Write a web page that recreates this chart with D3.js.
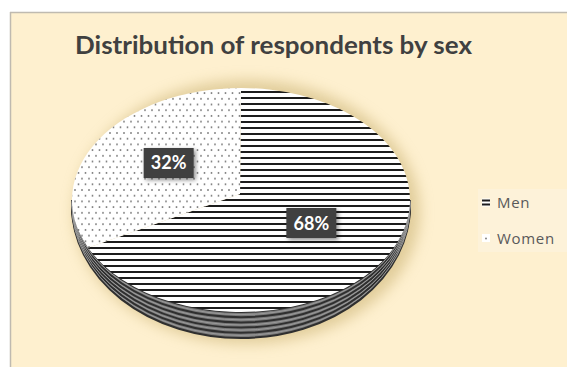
<!DOCTYPE html>
<html><head><meta charset="utf-8">
<script src="https://cdn.jsdelivr.net/npm/d3@7"></script>
<style>html,body{margin:0;padding:0;background:#fff;}svg{display:block;}</style>
</head><body>
<svg id="chart" width="567" height="367"></svg>
<script>
const categories = ["Men", "Women"];
const values = [68, 32];
const labels = ["68%", "32%"];
const title = "Distribution of respondents by sex";

const svg = d3.select("#chart");
const W = 567, H = 367;
const defs = svg.append("defs");

// patterns
const pl = defs.append("pattern").attr("id","lines").attr("patternUnits","userSpaceOnUse")
  .attr("width",8).attr("height",6).attr("y",1);
pl.append("rect").attr("width",8).attr("height",6).attr("fill","#ffffff");
pl.append("rect").attr("y",0).attr("width",8).attr("height",2).attr("fill","#1c1c1c");

const pd = defs.append("pattern").attr("id","dots").attr("patternUnits","userSpaceOnUse")
  .attr("width",7).attr("height",11.4);
pd.append("rect").attr("width",7).attr("height",11.4).attr("fill","#ffffff");
pd.append("circle").attr("cx",1.5).attr("cy",2).attr("r",0.95).attr("fill","#7a7a7a");
pd.append("circle").attr("cx",5).attr("cy",7.7).attr("r",0.95).attr("fill","#7a7a7a");

const blur = defs.append("filter").attr("id","blur").attr("x","-20%").attr("y","-20%").attr("width","140%").attr("height","140%");
blur.append("feGaussianBlur").attr("stdDeviation",7);
const lblShadow = defs.append("filter").attr("id","lshadow").attr("x","-30%").attr("y","-30%").attr("width","160%").attr("height","160%");
lblShadow.append("feDropShadow").attr("dx",2).attr("dy",2).attr("stdDeviation",2).attr("flood-color","#000").attr("flood-opacity",0.45);

// background and border
svg.append("rect").attr("x",10).attr("y",12).attr("width",W-10).attr("height",H-12).attr("fill","#fef0cf");
svg.append("line").attr("x1",10).attr("x2",W).attr("y1",12.5).attr("y2",12.5).attr("stroke","#bfbab0").attr("stroke-width",1.5);
svg.append("line").attr("x1",10.5).attr("x2",10.5).attr("y1",12).attr("y2",H).attr("stroke","#bfbab0").attr("stroke-width",1.5);
svg.append("rect").attr("x",478).attr("y",189).attr("width",89).attr("height",63).attr("fill","#fdf2d9");

// title
svg.append("text").attr("x",273.5).attr("y",54).attr("text-anchor","middle")
  .attr("font-family","Lato, 'Open Sans', sans-serif").attr("font-weight","bold")
  .attr("font-size",24).attr("fill","#404040")
  .attr("textLength",397).attr("lengthAdjust","spacingAndGlyphs").text(title);

// pie geometry
const cx = 241, cy = 200, rx = 169, ry = 112;
const sideDy = 6, sideDry = 20;   // bottom ellipse: shifted + taller (perspective)
const apex = [240, 194];
const pie = d3.pie().sort(null).value(d => d);
const arcs = pie(values);
const pt = a => [cx + rx*Math.sin(a), cy - ry*Math.cos(a)];

const g = svg.append("g");
// shadow
g.append("ellipse").attr("cx",cx+6).attr("cy",cy+sideDy+6).attr("rx",rx+4).attr("ry",ry+sideDry)
  .attr("fill","#c9b070").attr("opacity",0.55).attr("filter","url(#blur)");

// side
const frontArc = t => {
  const yc = cy + sideDy*t, r2 = ry + sideDry*t;
  return {yc, r2};
};
const b = frontArc(1);
g.append("path")
  .attr("d", `M${cx-rx},${cy} A${rx},${ry} 0 0 0 ${cx+rx},${cy} L${cx+rx},${b.yc} A${rx},${b.r2} 0 0 1 ${cx-rx},${b.yc} Z`)
  .attr("fill","#7a7a7a");
const layers = d3.range(0, 1.0001, 0.2);
g.selectAll("path.layer").data(layers).join("path").attr("class","layer")
  .attr("d", t => { const f = frontArc(t); return `M${cx-rx},${f.yc} A${rx},${f.r2} 0 0 0 ${cx+rx},${f.yc}`; })
  .attr("fill","none").attr("stroke","#2f2f2f").attr("stroke-width",2);
g.selectAll("path.layer2").data(layers.slice(0,-1)).join("path").attr("class","layer2")
  .attr("d", t => { const f = frontArc(t + 0.1); return `M${cx-rx},${f.yc} A${rx},${f.r2} 0 0 0 ${cx+rx},${f.yc}`; })
  .attr("fill","none").attr("stroke","#9a9a9a").attr("stroke-width",1);

// top face slices
const fills = ["url(#lines)", "url(#dots)"];
g.selectAll("path.slice").data(arcs).join("path").attr("class","slice")
  .attr("d", d => {
    const p0 = pt(d.startAngle), p1 = pt(d.endAngle);
    const large = (d.endAngle - d.startAngle) > Math.PI ? 1 : 0;
    return `M${apex[0]},${apex[1]} L${p0[0]},${p0[1]} A${rx},${ry} 0 ${large} 1 ${p1[0]},${p1[1]} Z`;
  })
  .attr("fill", (d,i) => fills[i]);

// labels
const lab = g.selectAll("g.lab").data(arcs).join("g").attr("class","lab")
  .attr("transform", d => {
    const m = (d.startAngle + d.endAngle)/2;
    const x = apex[0] + rx*0.5*Math.sin(m), y = apex[1] - ry*0.5*Math.cos(m) - 1;
    return `translate(${x},${y})`;
  });
lab.append("rect").attr("x",-25).attr("y",-15).attr("width",50).attr("height",30)
  .attr("fill","#3f3f3f").attr("filter","url(#lshadow)");
lab.append("text").attr("text-anchor","middle").attr("y",6.5)
  .attr("font-family","Lato, 'Open Sans', sans-serif").attr("font-weight","bold")
  .attr("font-size",18).attr("fill","#ffffff").text((d,i) => labels[i]);

// legend
const leg = svg.append("g");
const ly = [202.5, 238];
const li = leg.selectAll("g").data(categories).join("g").attr("transform",(d,i)=>`translate(0,${ly[i]})`);
li.append("rect").attr("x",482).attr("y",-4).attr("width",8).attr("height",8).attr("fill","#ffffff");
li.filter((d,i)=>i===0).append("rect").attr("x",482).attr("y",-3).attr("width",8).attr("height",2).attr("fill","#1c1c1c");
li.filter((d,i)=>i===0).append("rect").attr("x",482).attr("y",1).attr("width",8).attr("height",2).attr("fill","#1c1c1c");
li.filter((d,i)=>i===1).append("circle").attr("cx",486).attr("cy",0.5).attr("r",0.9).attr("fill","#777");
li.append("text").attr("x",497).attr("y",5.5)
  .attr("font-family","'Open Sans', sans-serif").attr("font-size",15).attr("letter-spacing",0.7).attr("fill","#595959")
  .text(d => d);
</script>
</body></html>
